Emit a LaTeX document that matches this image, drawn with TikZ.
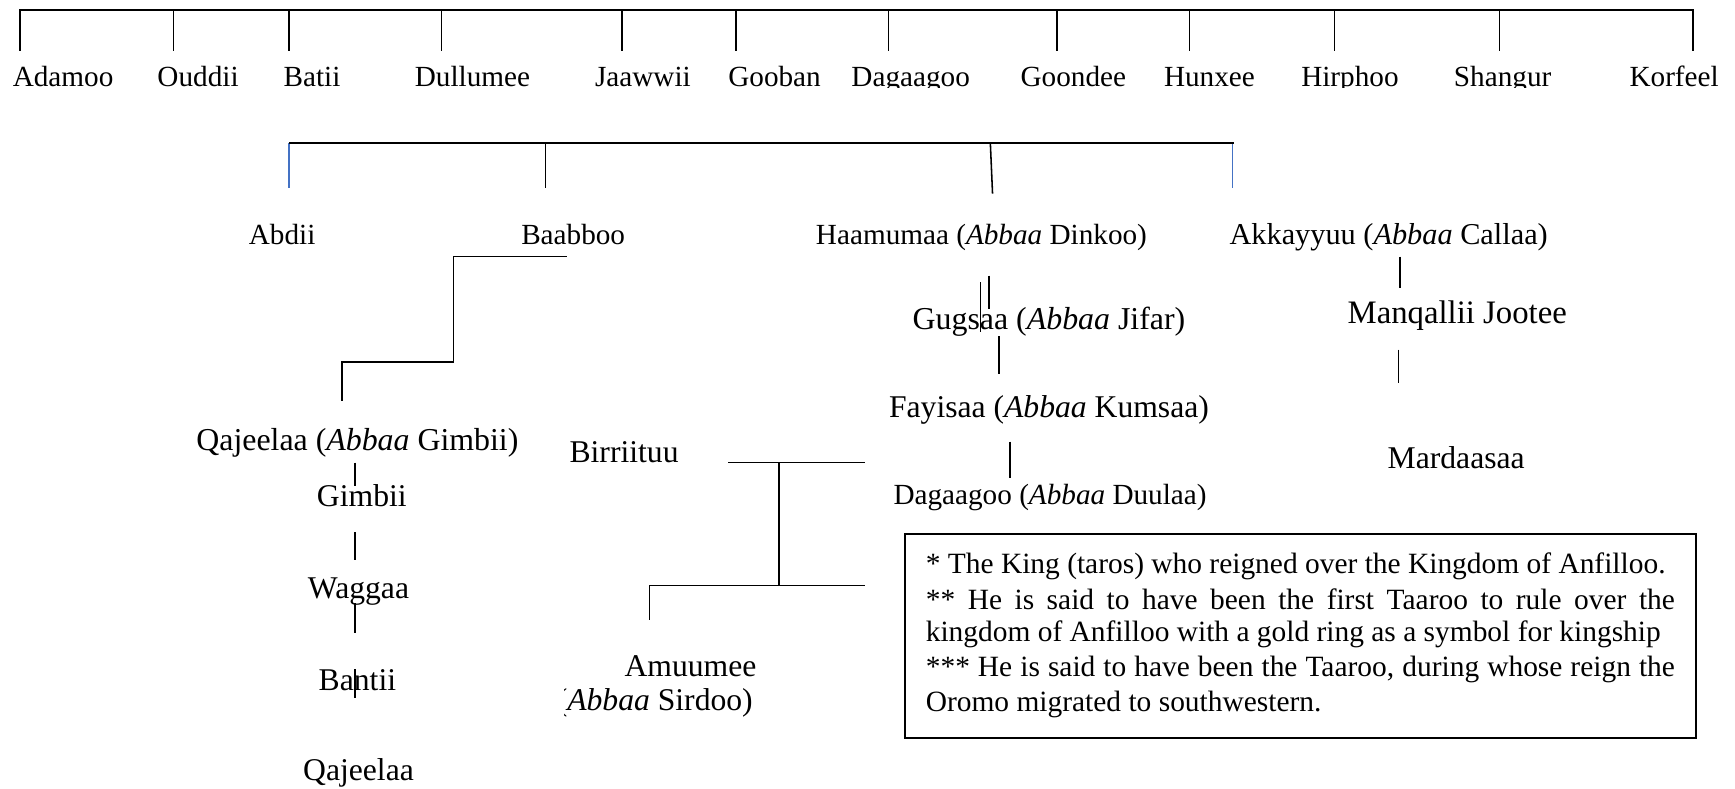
\documentclass[tikz,border=0pt]{standalone}
\usepackage{fontspec}
\setmainfont{Liberation Serif}
\definecolor{wordblue}{HTML}{4472C4}

\begin{document}
\begin{tikzpicture}[x=0.5pt, y=-0.5pt, line width=0.7pt,
        clan/.style={anchor=base, inner sep=0pt, font=\fontsize{13.2}{15}\selectfont},
        kin/.style={anchor=base, inner sep=0pt, font=\fontsize{14.3}{17}\selectfont},
        noteline/.style={anchor=base west, inner sep=0pt, font=\fontsize{13.3}{16}\selectfont}]
        \useasboundingbox (0,0) rectangle (1568,713);

        % the twelve clans
        \begin{scope}
            \clip (0,0) rectangle (1568,79);
            \foreach \tk/\lx/\nm [count=\i] in {18/57/Adamoo, 157/179/Ouddii, 261/282/Batii, 399/427/Dullumee, 562/581/Jaawwii, 665/700/Gooban, 803/823/Dagaagoo, 955/970/Goondee, 1075/1093/Hunxee, 1206/1220/Hirphoo, 1355/1358/Shangur, 1530/1513/Korfeel}{
                \node[clan] (clan\i) at (\lx,78) {\nm};
                \draw (clan\i.base) ++({\tk-\lx},-32) -- ++(0,-37);
            }
            \draw ([shift={(-39,-32)}]clan1.base) |- ([shift={(17,-69)}]clan12.base) -- ++(0,37);
        \end{scope}

        % sons of Batii
        \node[clan] (abdii) at (255,221) {Abdii};
        \node[clan] (baabboo) at (518,221) {Baabboo};
        \node[clan] (haamumaa) at (887,221) {Haamumaa (\textit{Abbaa} Dinkoo)};
        \node[clan, font=\fontsize{13.7}{16}\selectfont] (akkayyuu) at (1255,221) {Akkayyuu (\textit{Abbaa} Callaa)};
        \draw[wordblue] ([shift={(6,-92)}]abdii.base) -- ++(0,41);
        \draw[wordblue] ([shift={(-141,-92)}]akkayyuu.base) -- ++(0,41);
        \draw ([shift={(-25,-92)}]baabboo.base) -- ++(0,41);
        \draw ([shift={(8,-92)}]haamumaa.base) -- ([shift={(10,-46)}]haamumaa.base);
        \draw ([shift={(6,-92)}]abdii.base) -- ([shift={(-140,-92)}]akkayyuu.base);

        % line of Baabboo
        \node[kin, font=\fontsize{14.4}{17}\selectfont] (qajeelaaG) at (323,407) {Qajeelaa (\textit{Abbaa} Gimbii)};
        \node[kin] (gimbii) at (327,458) {Gimbii};
        \node[kin] (waggaa) at (324,541) {Waggaa};
        \node[kin] (bantii) at (323,624) {Bantii};
        \node[kin] (qajeelaa) at (324,705) {Qajeelaa};
        \draw ([shift={(-6,11)}]baabboo.base) -- ++(-102,0) |- ([shift={(-14,-80)}]qajeelaaG.base) -- ++(0,35);
        \draw ([shift={(-2,11)}]qajeelaaG.base) -- ([shift={(-6,-19)}]gimbii.base);
        \draw ([shift={(-6,23)}]gimbii.base) -- ([shift={(-3,-35)}]waggaa.base);
        \draw ([shift={(-3,4)}]waggaa.base) -- ([shift={(-2,-52)}]bantii.base);
        \draw ([shift={(-2,-19)}]bantii.base) -- ([shift={(-3,-74)}]qajeelaa.base);

        % Birriituu and Amuumee
        \node[kin] (birriituu) at (564,418) {Birriituu};
        \node[kin] (amuumee) at (624,611) {Amuumee};
        \begin{scope}
            \clip (510,600) rectangle (700,660);
            \node[kin, anchor=base east] (sirdoo) at (681,642) {(\textit{Abbaa} Sirdoo)};
        \end{scope}
        \draw ([shift={(94,0)}]birriituu.base) -- ++(124,0);
        \draw ([shift={(140,0)}]birriituu.base) -- ([shift={(80,-82)}]amuumee.base);
        \draw ([shift={(-37,-51)}]amuumee.base) |- ++(195,-31);

        % line of Haamumaa
        \node[kin, font=\fontsize{14.4}{17}\selectfont] (gugsaa) at (948,298) {Gugsaa (\textit{Abbaa} Jifar)};
        \node[kin] (fayisaa) at (948,377) {Fayisaa (\textit{Abbaa} Kumsaa)};
        \node[clan] (dagaagooD) at (949,456) {Dagaagoo (\textit{Abbaa} Duulaa)};
        \draw[line width=0.3pt] ([shift={(-1,34)}]haamumaa.base) -- ([shift={(-62,2)}]gugsaa.base);
        \draw ([shift={(7,28)}]haamumaa.base) -- ([shift={(-54,-19)}]gugsaa.base);
        \draw ([shift={(-45,6)}]gugsaa.base) -- ([shift={(-45,-39)}]fayisaa.base);
        \draw ([shift={(-35,22)}]fayisaa.base) -- ([shift={(-36,-24)}]dagaagooD.base);

        % line of Akkayyuu
        \node[kin, font=\fontsize{14.8}{18}\selectfont] (manqallii) at (1317,292) {Manqallii Jootee};
        \node[kin] (mardaasaa) at (1316,423) {Mardaasaa};
        \draw ([shift={(10,11)}]akkayyuu.base) -- ([shift={(-52,-32)}]manqallii.base);
        \draw ([shift={(-53,24)}]manqallii.base) -- ([shift={(-52,-77)}]mardaasaa.base);

        % notes
        \node[draw, line width=0.8pt, inner sep=0pt, anchor=north west, minimum width=357.5pt, minimum height=92pt] (notes) at (817,482) {};
        \node[noteline] (note1) at ([shift={(19,36)}]notes.north west) {* The King (taros) who reigned over the Kingdom of Anfilloo.};
        \node[noteline] (note2) at ([shift={(19,69)}]notes.north west) {\makebox[338.5pt][s]{** He is said to have been the first Taaroo to rule over the}};
        \node[noteline] (note3) at ([shift={(19,98)}]notes.north west) {kingdom of Anfilloo with a gold ring as a symbol for kingship};
        \node[noteline] (note4) at ([shift={(19,129)}]notes.north west) {\makebox[338.5pt][s]{*** He is said to have been the Taaroo, during whose reign the}};
        \node[noteline] (note5) at ([shift={(19,161)}]notes.north west) {Oromo migrated to southwestern.};

    \end{tikzpicture}
\end{document}
